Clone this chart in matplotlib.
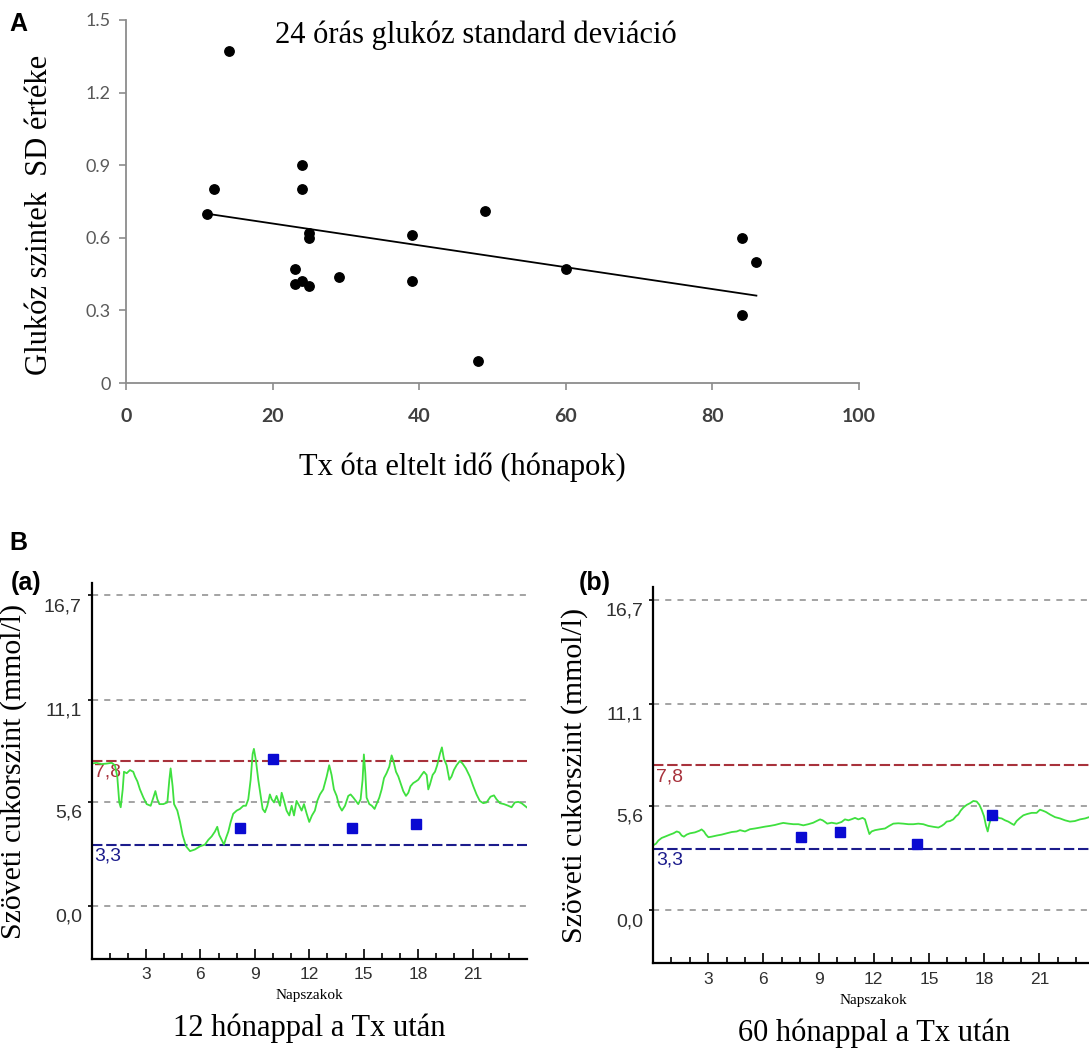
import numpy as np
import matplotlib as mpl
import matplotlib.pyplot as plt
from matplotlib.ticker import FixedLocator

# ---- panel A: SD of 24 h glucose vs months since Tx
months = [11, 12, 14, 23, 23, 24, 24, 24, 25, 25, 25, 29, 39, 39, 48, 49, 60, 84, 84, 86]
sd_vals = [0.70, 0.80, 1.37, 0.47, 0.41, 0.90, 0.80, 0.42, 0.62, 0.60, 0.40, 0.44,
           0.61, 0.42, 0.09, 0.71, 0.47, 0.60, 0.28, 0.50]
a_xticks = [0, 20, 40, 60, 80, 100]
a_yticks = [0, 0.3, 0.6, 0.9, 1.2, 1.5]
a_ylabels = ['0', '0.3', '0.6', '0.9', '1.2', '1.5']

# ---- panel B: CGM traces (hour, mmol/l)
cgm_12 = [
    (0.0, 7.66), (0.28, 7.70), (0.56, 7.63), (0.84, 7.66), (1.11, 7.70), (1.29, 7.57),
    (1.42, 6.96), (1.53, 5.57), (1.61, 5.31), (1.72, 6.27), (1.79, 7.22), (1.94, 7.14),
    (2.12, 7.31), (2.30, 7.22), (2.40, 6.96), (2.53, 6.70), (2.67, 6.27), (2.86, 5.83),
    (3.04, 5.48), (3.26, 5.39), (3.41, 5.83), (3.52, 6.18), (3.63, 5.74), (3.74, 5.48),
    (3.96, 5.48), (4.18, 5.57), (4.29, 6.79), (4.36, 7.40), (4.47, 6.44), (4.55, 5.48),
    (4.73, 5.13), (4.88, 4.52), (5.02, 3.82), (5.21, 3.21), (5.43, 2.95), (5.70, 3.04),
    (5.98, 3.21), (6.25, 3.30), (6.44, 3.56), (6.62, 3.74), (6.80, 4.00), (6.93, 4.26),
    (7.04, 3.82), (7.17, 3.56), (7.30, 3.30), (7.41, 3.65), (7.54, 4.00), (7.67, 4.52),
    (7.81, 4.96), (8.00, 5.13), (8.18, 5.22), (8.37, 5.39), (8.51, 5.39), (8.64, 5.74),
    (8.77, 6.79), (8.88, 8.18), (8.95, 8.45), (9.06, 7.83), (9.19, 6.79), (9.32, 5.92),
    (9.43, 5.22), (9.56, 5.04), (9.69, 5.39), (9.83, 6.00), (9.93, 5.74), (10.06, 5.57),
    (10.20, 5.92), (10.39, 5.39), (10.48, 6.09), (10.61, 5.65), (10.75, 5.13), (10.90, 4.87),
    (11.03, 5.39), (11.16, 4.87), (11.30, 5.65), (11.45, 5.39), (11.58, 5.13), (11.71, 5.48),
    (11.86, 4.96), (12.00, 4.52), (12.15, 4.87), (12.31, 5.13), (12.44, 5.65), (12.59, 6.00),
    (12.77, 6.27), (12.96, 6.96), (13.10, 7.57), (13.23, 7.05), (13.36, 6.27), (13.51, 5.92),
    (13.65, 5.39), (13.80, 5.13), (13.97, 5.39), (14.15, 5.92), (14.28, 6.00), (14.43, 5.83),
    (14.57, 5.65), (14.70, 5.48), (14.83, 5.74), (14.94, 6.79), (15.01, 8.15), (15.09, 7.14),
    (15.16, 5.83), (15.31, 5.48), (15.45, 5.39), (15.60, 5.22), (15.71, 5.48), (15.86, 5.83),
    (15.99, 6.27), (16.12, 6.88), (16.26, 7.14), (16.41, 7.49), (16.54, 8.10), (16.63, 7.83),
    (16.78, 7.22), (16.91, 6.96), (17.03, 6.61), (17.18, 6.18), (17.33, 5.92), (17.46, 6.09),
    (17.58, 6.44), (17.73, 6.61), (17.88, 6.70), (18.01, 6.79), (18.19, 7.05), (18.32, 7.22),
    (18.47, 7.05), (18.56, 6.27), (18.65, 6.53), (18.80, 7.05), (18.93, 7.22), (19.05, 7.57),
    (19.20, 8.18), (19.31, 8.53), (19.42, 7.92), (19.57, 7.57), (19.72, 6.79), (19.84, 6.96),
    (19.97, 7.31), (20.12, 7.57), (20.30, 7.80), (20.45, 7.66), (20.63, 7.40), (20.85, 6.96),
    (21.04, 6.44), (21.22, 6.00), (21.40, 5.65), (21.59, 5.53), (21.77, 5.57), (21.99, 5.88),
    (22.18, 5.95), (22.32, 5.74), (22.51, 5.53), (22.73, 5.48), (22.97, 5.39), (23.15, 5.31),
    (23.33, 5.57), (23.52, 5.60), (23.70, 5.53), (23.88, 5.39), (23.98, 5.31),
]
cgm_60 = [
    (0.0, 3.49), (0.16, 3.58), (0.29, 3.75), (0.47, 3.89), (0.65, 3.96), (0.92, 4.07),
    (1.11, 4.14), (1.29, 4.24), (1.43, 4.19), (1.56, 4.02), (1.68, 3.96), (1.83, 4.07),
    (2.01, 4.14), (2.28, 4.19), (2.52, 4.28), (2.64, 4.35), (2.77, 4.24), (2.88, 4.07),
    (3.01, 3.93), (3.19, 3.96), (3.46, 4.02), (3.73, 4.07), (4.00, 4.14), (4.28, 4.21),
    (4.55, 4.24), (4.73, 4.31), (5.00, 4.24), (5.27, 4.36), (5.54, 4.40), (5.82, 4.45),
    (6.09, 4.50), (6.36, 4.54), (6.63, 4.59), (6.90, 4.66), (7.08, 4.70), (7.36, 4.66),
    (7.63, 4.63), (7.90, 4.63), (8.17, 4.57), (8.44, 4.63), (8.71, 4.71), (8.89, 4.80),
    (9.08, 4.89), (9.22, 4.84), (9.35, 4.75), (9.47, 4.66), (9.71, 4.71), (9.98, 4.66),
    (10.25, 4.75), (10.43, 4.89), (10.62, 4.84), (10.80, 4.90), (10.98, 4.97), (11.16, 4.89),
    (11.39, 4.97), (11.52, 4.89), (11.65, 4.45), (11.76, 4.10), (11.88, 4.24), (12.07, 4.31),
    (12.34, 4.36), (12.61, 4.40), (12.84, 4.54), (13.06, 4.66), (13.33, 4.68), (13.60, 4.66),
    (13.88, 4.63), (14.15, 4.63), (14.42, 4.66), (14.69, 4.63), (14.96, 4.54), (15.24, 4.49),
    (15.51, 4.45), (15.69, 4.54), (15.82, 4.63), (15.96, 4.77), (16.14, 4.80), (16.32, 4.89),
    (16.47, 5.06), (16.59, 5.15), (16.72, 5.36), (16.87, 5.53), (17.05, 5.67), (17.23, 5.76),
    (17.41, 5.88), (17.59, 5.85), (17.74, 5.67), (17.86, 5.41), (17.99, 5.06), (18.10, 4.54),
    (18.19, 4.24), (18.28, 4.66), (18.41, 5.06), (18.59, 5.15), (18.77, 4.97), (18.95, 4.94),
    (19.13, 4.84), (19.31, 4.77), (19.49, 4.66), (19.62, 4.59), (19.76, 4.80), (19.95, 4.97),
    (20.13, 5.11), (20.34, 5.18), (20.58, 5.24), (20.85, 5.24), (21.03, 5.41), (21.18, 5.36),
    (21.35, 5.29), (21.58, 5.15), (21.85, 5.01), (22.12, 4.94), (22.39, 4.84), (22.66, 4.77),
    (22.93, 4.80), (23.21, 4.89), (23.48, 4.94), (23.70, 5.01), (24.0, 5.01),
]
# capillary (fingerstick) readings
fs_12_hours = [8.18, 9.98, 14.33, 17.88]
fs_12_vals = [4.21, 7.92, 4.21, 4.43]
fs_60_hours = [8.04, 10.16, 14.37, 18.44]
fs_60_vals = [3.96, 4.22, 3.58, 5.15]

gray_levels = [16.7, 11.1, 5.6, 0.0]
gray_labels = ['16,7', '11,1', '5,6', '0,0']
high_level, high_label = 7.8, '7,8'
low_level, low_label = 3.3, '3,3'
hour_ticks = [3, 6, 9, 12, 15, 18, 21]
hour_minor = [1, 2, 4, 5, 7, 8, 10, 11, 13, 14, 16, 17, 19, 20, 22, 23]

W, H = 1089, 1055
fig = plt.figure(figsize=(W / 100, H / 100), dpi=100)
serif = 'Liberation Serif'


def fx(px):
    return px / W


def fy(py):
    return 1 - py / H


# ================= panel A =================
ax = fig.add_axes([fx(126), fy(383), 733 / W, 363 / H])
ax.scatter(months, sd_vals, s=46, color='black', zorder=3)
coef = np.polyfit(months, sd_vals, 1)
xs = np.array([min(months), max(months)])
ax.plot(xs, np.polyval(coef, xs), color='black', lw=1.3, zorder=2)
ax.set_xlim(0, 100)
ax.set_ylim(0, 1.5)
for s in ['top', 'right']:
    ax.spines[s].set_visible(False)
for s in ['left', 'bottom']:
    ax.spines[s].set_color('#8c8c8c')
    ax.spines[s].set_linewidth(1.3)
ax.set_xticks(a_xticks)
ax.set_xticklabels([str(t) for t in a_xticks], fontweight='bold', family='Lato')
ax.set_yticks(a_yticks)
ax.set_yticklabels(a_ylabels, family='Lato')
ax.tick_params(axis='x', direction='out', length=5, width=1.2, color='#8c8c8c',
               labelsize=14, labelcolor='#404040', pad=13)
ax.tick_params(axis='y', direction='out', length=5, width=1.2, color='#8c8c8c',
               labelsize=13, labelcolor='#595959', pad=6)
ax.patch.set_alpha(0)

fig.text(fx(476), fy(35), '24 órás glukóz standard deviáció', family=serif,
         fontsize=22, ha='center', va='center')
fig.text(fx(40), fy(215), 'Glukóz szintek  SD értéke', family=serif, fontsize=22,
         rotation=90, ha='center', va='center')
fig.text(fx(462), fy(467), 'Tx óta eltelt idő (hónapok)', family=serif,
         fontsize=22, ha='center', va='center')
fig.text(fx(9), fy(24), 'A', fontsize=18, fontweight='bold', family='Liberation Sans',
         ha='left', va='center')
fig.text(fx(9), fy(543), 'B', fontsize=18, fontweight='bold', family='Liberation Sans',
         ha='left', va='center')


# ================= panel B =================
def cgm_panel(rect, trace, fs_h, fs_v, tag, tag_x, subtitle, sub_y):
    bx = fig.add_axes(rect)
    bx.set_xlim(0, 24)
    bx.set_ylim(-2.85, 17.37)
    for lv in gray_levels:
        bx.axhline(lv, color='#8a8a8a', lw=1.1, ls=(0, (4, 4)), zorder=1)
    bx.axhline(high_level, color='#a8323c', lw=1.5, ls=(0, (5, 1.8)), zorder=1)
    bx.axhline(low_level, color='#1c1c8c', lw=1.5, ls=(0, (5, 1.8)), zorder=1)
    h, v = np.array(trace).T
    bx.plot(h, v, color='#3fe03f', lw=1.3, zorder=2)
    bx.plot(fs_h, fs_v, ls='none', marker='s', ms=7, color='#0a0ad2', zorder=3)

    for s in ['top', 'right']:
        bx.spines[s].set_visible(False)
    for s in ['left', 'bottom']:
        bx.spines[s].set_color('black')
        bx.spines[s].set_linewidth(1.6)
    bx.xaxis.set_major_locator(FixedLocator(hour_ticks))
    bx.xaxis.set_minor_locator(FixedLocator(hour_minor))
    bx.set_xticklabels([str(t) for t in hour_ticks], family='Liberation Sans')
    bx.tick_params(axis='x', which='major', direction='in', length=7.5, width=1.2,
                   labelsize=12.5, labelcolor='#303030', pad=6)
    bx.tick_params(axis='x', which='minor', direction='in', length=4.5, width=1.2)
    bx.set_yticks(gray_levels)
    bx.set_yticklabels([])
    bx.tick_params(axis='y', direction='out', length=3, width=1.2)

    for lv, lb in zip(gray_levels, gray_labels):
        bx.annotate(lb, xy=(0, lv), xycoords=('axes fraction', 'data'),
                    xytext=(-7, -2), textcoords='offset points', ha='right', va='top',
                    fontsize=14, color='#303030', family='Liberation Sans')
    bx.annotate(high_label, xy=(0, high_level), xycoords=('axes fraction', 'data'),
                xytext=(2, -2), textcoords='offset points', ha='left', va='top',
                fontsize=14, color='#a8323c', family='Liberation Sans', zorder=1)
    bx.annotate(low_label, xy=(0, low_level), xycoords=('axes fraction', 'data'),
                xytext=(2, -2), textcoords='offset points', ha='left', va='top',
                fontsize=14, color='#1c1c8c', family='Liberation Sans', zorder=1)

    bx.set_ylabel('Szöveti cukorszint (mmol/l)', family=serif, fontsize=21.5)
    bx.yaxis.set_label_coords(-0.148, 0.5)
    bx.set_xlabel('Napszakok', family=serif, fontsize=11, labelpad=5)
    fig.text(fx(tag_x), fy(583), tag, fontsize=18, fontweight='bold',
             family='Liberation Sans', ha='left', va='center')
    fig.text(rect[0] + rect[2] / 2, fy(sub_y), subtitle, family=serif, fontsize=22,
             ha='center', va='center')
    return bx


cgm_panel([fx(91.5), fy(959), 435.5 / W, 376 / H], cgm_12, fs_12_hours, fs_12_vals,
          '(a)', 11, '12 hónappal a Tx után', 1028)
cgm_panel([fx(653), fy(963.3), 441.6 / W, 376 / H], cgm_60, fs_60_hours, fs_60_vals,
          '(b)', 579, '60 hónappal a Tx után', 1033)

fig.savefig('out.png', dpi=100)
